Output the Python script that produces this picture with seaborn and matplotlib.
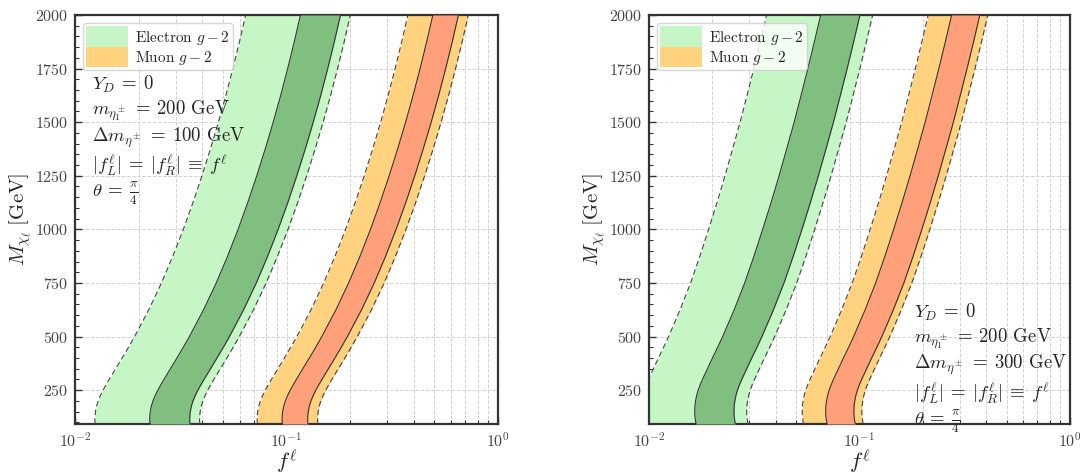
import numpy as np
import matplotlib
matplotlib.use("Agg")
import matplotlib.pyplot as plt
from matplotlib.ticker import MultipleLocator, LogLocator, NullFormatter
from matplotlib.patches import Patch
import seaborn as sns

# Dark-fermion mass grid (GeV)
mass = [92, 110, 130, 150, 175, 200, 225, 250, 275, 300, 350, 400, 450, 500,
        625, 750, 875, 1000, 1125, 1250, 1375, 1500, 1625, 1750, 1875, 2000]

# log10 of f relative to its value at M = 2000 GeV (common band shape)
shape_dm100 = [-0.7113, -0.7130, -0.7123, -0.7101, -0.7051, -0.6972, -0.6867,
               -0.6741, -0.6600, -0.6453, -0.6146, -0.5840, -0.5538, -0.5250,
               -0.4580, -0.3981, -0.3443, -0.2948, -0.2491, -0.2066, -0.1665,
               -0.1288, -0.0934, -0.0604, -0.0292, 0.0]
shape_dm300 = [-0.5924, -0.5952, -0.5976, -0.5986, -0.5976, -0.5943, -0.5891,
               -0.5819, -0.5724, -0.5615, -0.5378, -0.5140, -0.4893, -0.4656,
               -0.4109, -0.3610, -0.3169, -0.2755, -0.2356, -0.1976, -0.1615,
               -0.1259, -0.0931, -0.0608, -0.0299, 0.0]

# Band edges at M = 2000 GeV: outer-left, inner-left, inner-right, outer-right
electron_dm100 = [0.0641, 0.1164, 0.180, 0.2004]
muon_dm100 = [0.375, 0.492, 0.650, 0.724]
electron_dm300 = [0.0362, 0.0654, 0.1005, 0.1155]
muon_dm300 = [0.212, 0.274, 0.373, 0.407]

legend_labels = [r"Electron $g-2$", r"Muon $g-2$"]
info_dm100 = [r"$Y_D\:=\:0$", r"$m_{\eta_1^\pm}\:=\:200$ GeV",
              r"$\Delta m_{\eta^\pm}\:=\:100$ GeV",
              r"$|f_L^\ell|\:=\:|f_R^\ell|\:\equiv\:f^\ell$",
              r"$\theta\:=\:\frac{\pi}{4}$"]
info_dm300 = [r"$Y_D\:=\:0$", r"$m_{\eta_1^\pm}\:=\:200$ GeV",
              r"$\Delta m_{\eta^\pm}\:=\:300$ GeV",
              r"$|f_L^\ell|\:=\:|f_R^\ell|\:\equiv\:f^\ell$",
              r"$\theta\:=\:\frac{\pi}{4}$"]

E_OUTER, E_INNER = "#c6f5c6", "#80bf80"
M_OUTER, M_INNER = "#ffd27f", "#ffa07a"

sns.set_style("ticks")
plt.rcParams.update({
    "font.family": "serif",
    "font.serif": ["cmr10"],
    "mathtext.fontset": "cm",
    "axes.formatter.use_mathtext": True,
    "axes.unicode_minus": False,
})

fig = plt.figure(figsize=(10.8, 4.72), dpi=100)
ax1 = fig.add_axes([75 / 1080, 48 / 472, 423 / 1080, 409 / 472])
ax2 = fig.add_axes([649 / 1080, 48 / 472, 421 / 1080, 409 / 472])


def draw_band(ax, top_edges, shape, outer, inner):
    m = np.asarray(mass, dtype=float)
    scale = 10.0 ** np.asarray(shape)
    e = [v * scale for v in top_edges]
    ax.fill_betweenx(m, e[0], e[3], color=outer, lw=0, zorder=2)
    ax.fill_betweenx(m, e[1], e[2], color=inner, lw=0, zorder=3)
    for k in (0, 3):
        sns.lineplot(x=e[k], y=m, orient="y", sort=False, estimator=None, ax=ax,
                     color="#444444", lw=0.8, zorder=4, linestyle=(0, (5, 3)))
    for k in (1, 2):
        sns.lineplot(x=e[k], y=m, orient="y", sort=False, estimator=None, ax=ax,
                     color="#333333", lw=0.8, zorder=4)


def style_axes(ax, info, info_xy):
    ax.set_xscale("log")
    ax.set_xlim(1e-2, 1)
    ax.set_ylim(92, 2000)
    ax.yaxis.set_major_locator(MultipleLocator(250))
    ax.yaxis.set_minor_locator(MultipleLocator(50))
    ax.xaxis.set_major_locator(LogLocator(base=10))
    ax.xaxis.set_minor_locator(LogLocator(base=10, subs=np.arange(2, 10)))
    ax.xaxis.set_minor_formatter(NullFormatter())
    ax.grid(True, which="major", axis="both", ls="--", lw=0.7, color="#d2d2d2", zorder=0)
    ax.grid(True, which="minor", axis="x", ls="--", lw=0.7, color="#d2d2d2", zorder=0)
    ax.set_axisbelow(True)
    ax.tick_params(which="major", direction="in", length=5, width=1.0,
                   color="#333333", labelcolor="#444444", labelsize=11.5, pad=5)
    ax.tick_params(which="minor", direction="in", length=3, width=0.8, color="#333333")
    for sp in ax.spines.values():
        sp.set_color("#333333")
        sp.set_linewidth(1.6)
    ax.set_xlabel(r"$f^\ell$", fontsize=16, labelpad=-1.5)
    ax.set_ylabel(r"$M_{\chi_\ell}\;[\mathrm{GeV}]$", fontsize=15, labelpad=1)
    handles = [Patch(facecolor=E_OUTER, edgecolor="none", label=legend_labels[0]),
               Patch(facecolor=M_OUTER, edgecolor="none", label=legend_labels[1])]
    leg = ax.legend(handles=handles, loc="upper left", fontsize=11, frameon=True,
                    fancybox=True, framealpha=0.8, edgecolor="#cccccc",
                    handlelength=2.7, handleheight=1.65, labelspacing=0.0,
                    handletextpad=0.5, borderpad=0.2, borderaxespad=0.55)
    leg.set_zorder(6)
    ax.text(info_xy[0], info_xy[1], "\n".join(info), transform=ax.transAxes,
            ha="left", va="top", fontsize=13.5, linespacing=1.18, zorder=7)


draw_band(ax1, electron_dm100, shape_dm100, E_OUTER, E_INNER)
draw_band(ax1, muon_dm100, shape_dm100, M_OUTER, M_INNER)
style_axes(ax1, info_dm100, (0.04, 0.855))

draw_band(ax2, electron_dm300, shape_dm300, E_OUTER, E_INNER)
draw_band(ax2, muon_dm300, shape_dm300, M_OUTER, M_INNER)
style_axes(ax2, info_dm300, (0.63, 0.298))

fig.savefig("out.png", dpi=100)
